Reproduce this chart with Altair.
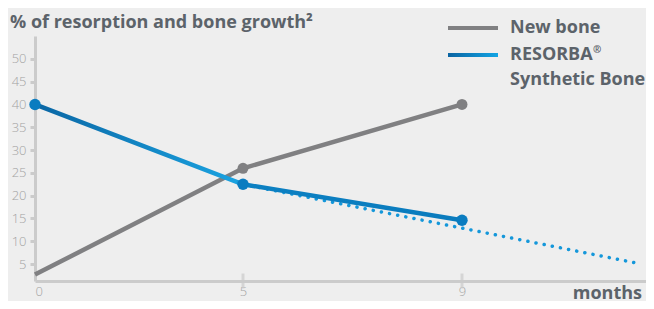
import altair as alt
import pandas as pd

# ---- data ----
months = [0, 5, 9]
new_bone = [2.7, 26, 40]
resorba = [40, 22.5, 14.6]
trend_months = [5, 12.2]
trend_values = [22.5, 5.2]
y_ticks = [5, 10, 15, 20, 25, 30, 35, 40, 45, 50]
x_ticks = [0, 5, 9]
legend_labels = ["New bone", "RESORBA", "Synthetic Bone"]
title_text = "% of resorption and bone growth²"

W, H = 611, 245
GRAY = "#808082"
AXIS = "#cbcbcb"
TXT = "#5c636a"
FONT = "Open Sans"
FS = 18

df_new = pd.DataFrame({"m": months, "v": new_bone})
df_res = pd.DataFrame({"m": months, "v": resorba})
df_trend = pd.DataFrame({"m": trend_months, "v": trend_values})

xs = alt.Scale(domain=[0, 5, 9, 12.36], range=[0, 208, 427, 611], zero=False, nice=False)
ys = alt.Scale(domain=[1.3, 55], zero=False, nice=False)

x_axis = alt.Axis(values=x_ticks, title=None, ticks=False, grid=False,
                  domainColor=AXIS, domainWidth=3, labelColor="#a3a3a3",
                  labelFont="Open Sans", labelFontWeight=300, labelFontSize=13,
                  labelPadding=4, labelOverlap=False)
y_axis = alt.Axis(values=y_ticks, title=None, grid=False, domainColor=AXIS,
                  domainWidth=3, tickColor=AXIS, tickWidth=3, tickSize=5,
                  labelColor="#a3a3a3", labelFont="Open Sans", labelFontWeight=300,
                  labelFontSize=13, labelPadding=4, labelOverlap=False)

X = alt.X("m:Q", scale=xs, axis=x_axis)
Y = alt.Y("v:Q", scale=ys, axis=y_axis)

xtick = alt.Chart(pd.DataFrame({"m": x_ticks[1:]})).mark_tick(
    orient="vertical", size=15, thickness=3, color=AXIS
).encode(x=X, y=alt.value(H))

gray_line = alt.Chart(df_new).mark_line(color=GRAY, strokeWidth=4.5).encode(x=X, y=Y)
gray_pts = alt.Chart(df_new[df_new.m > 0]).mark_circle(
    color=GRAY, size=120, opacity=1).encode(x=X, y=Y)

trend = alt.Chart(df_trend).mark_line(
    color="#1497da", strokeWidth=3.5, strokeCap="round", strokeDash=[0.1, 8.2]
).encode(x=X, y=Y)

blue_grad = alt.Gradient(
    gradient="linear", x1=0, x2=1, y1=0, y2=0,
    stops=[alt.GradientStop(color="#0a66a4", offset=0),
           alt.GradientStop(color="#1aa2e0", offset=0.47),
           alt.GradientStop(color="#0c80c2", offset=0.5),
           alt.GradientStop(color="#0a7bbd", offset=1)])
blue_line = alt.Chart(df_res).mark_line(color=blue_grad, strokeWidth=4.5).encode(x=X, y=Y)
blue_pts = alt.Chart(df_res).mark_circle(color="#0a7cc0", size=130, opacity=1).encode(x=X, y=Y)

# ---- manual legend and texts ----
one = pd.DataFrame({"k": [0]})
leg_gray = alt.Chart(one).mark_rule(color=GRAY, strokeWidth=4).encode(
    x=alt.value(413), x2=alt.value(463), y=alt.value(-8))
leg_grad = alt.Gradient(
    gradient="linear", x1=0, x2=1, y1=0, y2=0,
    stops=[alt.GradientStop(color="#0a64a2", offset=0),
           alt.GradientStop(color="#12a4e4", offset=1)])
leg_blue = alt.Chart(one).mark_rect(fill=leg_grad).encode(
    x=alt.value(413), x2=alt.value(463), y=alt.value(17), y2=alt.value(21))


def txt(text, x, y, align="left", size=FS, weight="bold", color=TXT):
    return alt.Chart(one).mark_text(
        text=text, align=align, baseline="middle", font=FONT,
        fontWeight=weight, fontSize=size, color=color
    ).encode(x=alt.value(x), y=alt.value(y))


leg_t1 = txt(legend_labels[0], 475, -8)
leg_t2 = txt(legend_labels[1], 475, 19)
leg_reg = txt("®", 558, 14, size=10)
leg_t3 = txt(legend_labels[2], 475, 44)
months_lbl = txt("months", 607, 258, align="right")
title = txt(title_text, -25, -13)

chart = alt.layer(
    xtick, gray_line, gray_pts, trend, blue_line, blue_pts,
    leg_gray, leg_blue, leg_t1, leg_t2, leg_reg, leg_t3, months_lbl, title
).properties(
    width=W, height=H,
    padding={"left": 27, "top": 28, "right": 0, "bottom": 20},
    autosize="none",
    background="#eeeeee",
).configure_view(stroke=None).configure_axis(labelOverlap=False)

chart.save("out.html", embed_options={"renderer": "svg", "actions": False})
